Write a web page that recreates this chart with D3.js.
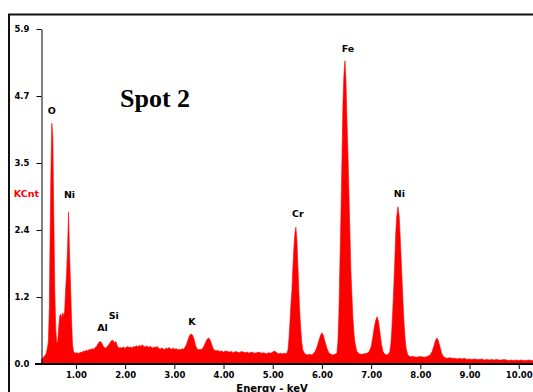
<!DOCTYPE html>
<html>
<head>
<meta charset="utf-8">
<script src="https://cdn.jsdelivr.net/npm/d3@7/dist/d3.min.js"></script>
<style>
  html, body { margin: 0; padding: 0; background: #fff; }
  svg { display: block; }
</style>
</head>
<body>
<svg id="chart" width="533" height="392"></svg>
<script>
// EDS spectrum, Spot 2 — energy (keV) and counts (KCnt)
const energyKeV = [
  0.30, 0.32, 0.34, 0.36, 0.38, 0.40, 0.42, 0.44, 0.46, 0.47, 0.49, 0.51, 0.53, 0.55, 0.57, 0.59,
  0.61, 0.63, 0.65, 0.67, 0.69, 0.71, 0.73, 0.75, 0.77, 0.79, 0.81, 0.83, 0.85, 0.87, 0.89, 0.91,
  0.93, 0.95, 0.97, 1.00, 1.03, 1.06, 1.09, 1.12, 1.15, 1.18, 1.21, 1.24, 1.27, 1.30, 1.33, 1.36,
  1.39, 1.42, 1.45, 1.48, 1.51, 1.54, 1.57, 1.60, 1.63, 1.66, 1.69, 1.72, 1.75, 1.78, 1.81, 1.84,
  1.87, 1.90, 1.93, 1.96, 1.99, 2.02, 2.05, 2.08, 2.11, 2.14, 2.17, 2.20, 2.23, 2.26, 2.29, 2.32,
  2.35, 2.38, 2.41, 2.44, 2.47, 2.50, 2.53, 2.56, 2.59, 2.62, 2.65, 2.68, 2.71, 2.74, 2.77, 2.80,
  2.83, 2.86, 2.89, 2.92, 2.95, 2.98, 3.01, 3.04, 3.07, 3.10, 3.13, 3.16, 3.19, 3.22, 3.25, 3.28,
  3.31, 3.34, 3.37, 3.40, 3.43, 3.46, 3.49, 3.52, 3.55, 3.58, 3.61, 3.64, 3.67, 3.70, 3.73, 3.76,
  3.79, 3.82, 3.85, 3.88, 3.92, 3.96, 4.00, 4.04, 4.08, 4.12, 4.16, 4.20, 4.24, 4.28, 4.32, 4.36,
  4.40, 4.44, 4.48, 4.52, 4.56, 4.60, 4.64, 4.68, 4.72, 4.76, 4.80, 4.84, 4.88, 4.92, 4.96, 5.00,
  5.04, 5.08, 5.12, 5.16, 5.20, 5.24, 5.27, 5.29, 5.31, 5.33, 5.35, 5.37, 5.39, 5.41, 5.43, 5.45,
  5.47, 5.49, 5.51, 5.53, 5.55, 5.57, 5.59, 5.61, 5.65, 5.70, 5.75, 5.80, 5.82, 5.86, 5.90, 5.94,
  5.97, 6.00, 6.03, 6.06, 6.10, 6.14, 6.18, 6.22, 6.26, 6.29, 6.305, 6.325, 6.345, 6.366, 6.386, 6.407,
  6.427, 6.447, 6.468, 6.488, 6.508, 6.529, 6.549, 6.569, 6.59, 6.61, 6.63, 6.65, 6.67, 6.71, 6.76, 6.80,
  6.86, 6.92, 6.96, 7.00, 7.03, 7.06, 7.09, 7.12, 7.15, 7.18, 7.21, 7.24, 7.28, 7.32, 7.36, 7.38,
  7.40, 7.42, 7.44, 7.46, 7.48, 7.50, 7.52, 7.545, 7.57, 7.59, 7.61, 7.63, 7.65, 7.67, 7.69, 7.71,
  7.74, 7.78, 7.85, 7.92, 8.00, 8.08, 8.14, 8.20, 8.24, 8.28, 8.31, 8.34, 8.37, 8.40, 8.43, 8.46,
  8.50, 8.55, 8.60, 8.65, 8.70, 8.75, 8.80, 8.85, 8.90, 8.95, 9.00, 9.05, 9.10, 9.15, 9.20, 9.25,
  9.30, 9.35, 9.40, 9.45, 9.50, 9.55, 9.60, 9.65, 9.70, 9.75, 9.80, 9.85, 9.90, 9.95, 10.00, 10.05,
  10.10, 10.15, 10.20, 10.25, 10.30
];
const countsKCnt = [
  0.08, 0.10, 0.12, 0.14, 0.16, 0.20, 0.28, 0.40, 1.00, 1.90, 3.30, 4.24, 4.00, 2.60, 1.30, 0.60,
  0.38, 0.40, 0.65, 0.85, 0.88, 0.80, 0.90, 0.85, 0.92, 1.30, 1.60, 2.05, 2.68, 1.95, 1.40, 0.80,
  0.35, 0.22, 0.20, 0.19, 0.20, 0.18, 0.21, 0.20, 0.23, 0.22, 0.24, 0.23, 0.26, 0.25, 0.27, 0.26,
  0.29, 0.31, 0.36, 0.39, 0.39, 0.34, 0.29, 0.28, 0.30, 0.33, 0.37, 0.41, 0.42, 0.37, 0.40, 0.32,
  0.28, 0.29, 0.28, 0.30, 0.28, 0.29, 0.31, 0.29, 0.30, 0.28, 0.31, 0.30, 0.32, 0.30, 0.33, 0.31,
  0.34, 0.31, 0.30, 0.32, 0.29, 0.31, 0.30, 0.28, 0.30, 0.29, 0.31, 0.28, 0.26, 0.28, 0.27, 0.25,
  0.28, 0.27, 0.29, 0.27, 0.26, 0.28, 0.26, 0.27, 0.25, 0.26, 0.25, 0.27, 0.26, 0.30, 0.35, 0.43,
  0.50, 0.53, 0.51, 0.44, 0.33, 0.27, 0.25, 0.26, 0.25, 0.28, 0.33, 0.39, 0.44, 0.46, 0.42, 0.34,
  0.27, 0.24, 0.23, 0.24, 0.22, 0.23, 0.21, 0.23, 0.22, 0.21, 0.22, 0.20, 0.22, 0.21, 0.20, 0.22,
  0.21, 0.20, 0.21, 0.19, 0.21, 0.20, 0.19, 0.20, 0.21, 0.19, 0.20, 0.19, 0.18, 0.20, 0.19, 0.21,
  0.23, 0.20, 0.18, 0.19, 0.18, 0.19, 0.18, 0.20, 0.25, 0.45, 0.75, 1.05, 1.30, 1.70, 2.05, 2.30,
  2.41, 2.20, 1.75, 1.30, 0.90, 0.60, 0.38, 0.25, 0.18, 0.16, 0.17, 0.16, 0.18, 0.22, 0.30, 0.42,
  0.50, 0.55, 0.50, 0.40, 0.28, 0.20, 0.17, 0.16, 0.17, 0.18, 0.20, 0.40, 0.90, 1.80, 2.60, 3.60,
  4.60, 5.10, 5.34, 5.00, 4.30, 3.70, 3.00, 2.30, 1.60, 1.20, 0.80, 0.55, 0.38, 0.22, 0.18, 0.17,
  0.18, 0.19, 0.22, 0.30, 0.45, 0.62, 0.76, 0.83, 0.75, 0.55, 0.35, 0.22, 0.17, 0.16, 0.18, 0.22,
  0.35, 0.60, 0.95, 1.35, 1.80, 2.30, 2.60, 2.77, 2.60, 2.25, 1.85, 1.45, 1.05, 0.70, 0.45, 0.28,
  0.17, 0.13, 0.13, 0.12, 0.13, 0.12, 0.13, 0.16, 0.22, 0.33, 0.42, 0.46, 0.40, 0.30, 0.20, 0.14,
  0.11, 0.10, 0.11, 0.10, 0.10, 0.09, 0.10, 0.09, 0.10, 0.08, 0.09, 0.08, 0.09, 0.08, 0.08, 0.09,
  0.07, 0.08, 0.07, 0.08, 0.07, 0.08, 0.07, 0.07, 0.08, 0.07, 0.06, 0.07, 0.06, 0.07, 0.06, 0.07,
  0.06, 0.06, 0.07, 0.06, 0.06
];

// Element labels placed above their peaks (energy keV, count KCnt)
const peakNames = ["O", "Ni", "Al", "Si", "K", "Cr", "Fe", "Ni"];
const peakLabelKeV = [0.51, 0.87, 1.54, 1.77, 3.36, 5.51, 6.53, 7.575];
const peakLabelCnt = [4.40, 2.92, 0.58, 0.79, 0.69, 2.59, 5.49, 2.94];

// Axis ticks
const xTickValues = [1, 2, 3, 4, 5, 6, 7, 8, 9, 10];
const yMax = 5.9;
const yTickValues = [0, 1.18, 2.36, 3.54, 4.72, 5.9];
const yTickLabels = ["0.0", "1.2", "2.4", "3.5", "4.7", "5.9"];

const spectrum = energyKeV.map((e, i) => ({ e, c: countsKCnt[i] }));

const svg = d3.select("#chart");

// outer frame
svg.append("rect")
  .attr("x", 9).attr("y", 14.5)
  .attr("width", 600).attr("height", 500)
  .attr("fill", "none")
  .attr("stroke", "#111")
  .attr("stroke-width", 2);

const x = d3.scaleLinear().domain([0.3, 10.3]).range([41.5, 533.5]);
const y = d3.scaleLinear().domain([0, yMax]).range([364, 29]);

// spectrum fill
const area = d3.area()
  .x(d => x(d.e))
  .y0(y(0))
  .y1(d => y(d.c))
  .curve(d3.curveLinear);

svg.append("path")
  .datum(spectrum)
  .attr("d", area)
  .attr("fill", "#ff0000")
  .attr("stroke", "#ff0000")
  .attr("stroke-width", 0.6)
  .attr("stroke-linejoin", "round");

const font = "'DejaVu Sans', Verdana, sans-serif";

// y axis
const yAxis = d3.axisLeft(y)
  .tickValues(yTickValues)
  .tickFormat((d, i) => yTickLabels[i])
  .tickSizeInner(5)
  .tickSizeOuter(0)
  .tickPadding(7);
const gy = svg.append("g").attr("transform", "translate(41.5,0)").call(yAxis);
gy.select(".domain").attr("stroke", "#000").attr("stroke-width", 1);
gy.selectAll(".tick line").attr("stroke", "#000");
gy.selectAll(".tick text")
  .attr("font-family", font)
  .attr("font-weight", "bold")
  .attr("font-size", 8.5)
  .attr("fill", "#000");

// x axis
const xAxis = d3.axisBottom(x)
  .tickValues(xTickValues)
  .tickFormat(d3.format(".2f"))
  .tickSizeInner(5)
  .tickSizeOuter(0)
  .tickPadding(3);
const gx = svg.append("g").attr("transform", "translate(0,364)").call(xAxis);
gx.select(".domain").remove();
gx.append("line")
  .attr("x1", 35).attr("x2", 533)
  .attr("y1", 0).attr("y2", 0)
  .attr("stroke", "#000").attr("stroke-width", 2.2);
gx.selectAll(".tick line").attr("stroke", "#000");
gx.selectAll(".tick text")
  .attr("font-family", font)
  .attr("font-weight", "bold")
  .attr("font-size", 8.5)
  .attr("fill", "#000");

// axis titles
svg.append("text")
  .attr("x", 272).attr("y", 391.5)
  .attr("text-anchor", "middle")
  .attr("font-family", font)
  .attr("font-weight", "bold")
  .attr("font-size", 10)
  .text("Energy - keV");

svg.append("text")
  .attr("x", 39).attr("y", 196.5)
  .attr("text-anchor", "end")
  .attr("font-family", font)
  .attr("font-weight", "bold")
  .attr("font-size", 9.5)
  .attr("fill", "#ff0000")
  .text("KCnt");

// element labels
svg.append("g").selectAll("text")
  .data(peakNames)
  .join("text")
  .attr("x", (d, i) => x(peakLabelKeV[i]))
  .attr("y", (d, i) => y(peakLabelCnt[i]))
  .attr("text-anchor", "middle")
  .attr("font-family", font)
  .attr("font-weight", "bold")
  .attr("font-size", 9.5)
  .attr("fill", "#000")
  .text(d => d);

// sample title
svg.append("text")
  .attr("x", 120).attr("y", 107)
  .attr("font-family", "'Liberation Serif', 'Times New Roman', serif")
  .attr("font-weight", "bold")
  .attr("font-size", 26)
  .attr("fill", "#000")
  .text("Spot 2");
</script>
</body>
</html>
